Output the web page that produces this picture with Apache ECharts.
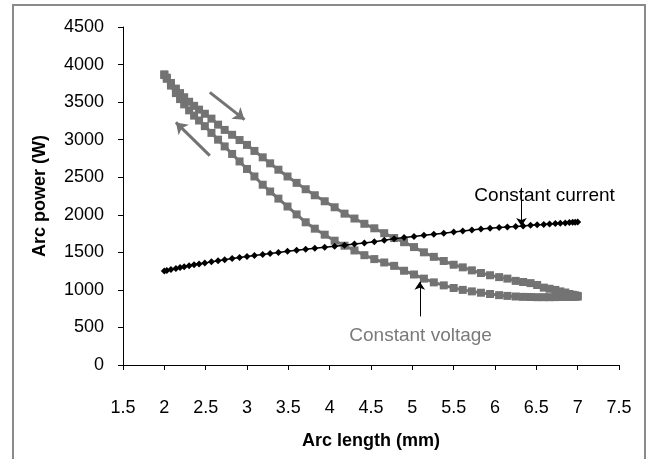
<!DOCTYPE html>
<html>
<head>
<meta charset="utf-8">
<script src="https://cdn.jsdelivr.net/npm/echarts@6/dist/echarts.min.js"></script>
<style>
  html, body { margin: 0; padding: 0; background: #fff; }
  #chart { width: 649px; height: 459px; }
</style>
</head>
<body>
<div id="chart"></div>
<script>
// arc length (mm) at each sample of the sweep
const arcLength = [
  2.00, 2.03, 2.08, 2.14, 2.19, 2.24, 2.30, 2.36, 2.42, 2.49, 2.57, 2.65, 2.73, 2.82, 2.91,
  3.00, 3.09, 3.19, 3.28, 3.38, 3.49, 3.60, 3.71, 3.82, 3.94, 4.06, 4.18, 4.30, 4.42, 4.54,
  4.66, 4.78, 4.90, 5.02, 5.14, 5.26, 5.38, 5.50, 5.61, 5.72, 5.83, 5.94, 6.05, 6.15, 6.25,
  6.34, 6.43, 6.51, 6.59, 6.66, 6.73, 6.79, 6.85, 6.90, 6.94, 6.97, 7.00
];

// constant current: arc power (W)
const ccPower = [
  1250, 1258, 1270, 1285, 1297, 1308, 1322, 1334, 1346, 1358, 1373, 1388, 1402, 1417, 1432,
  1445, 1458, 1472, 1484, 1498, 1514, 1527, 1540, 1553, 1568, 1582, 1595, 1610, 1625, 1640,
  1660, 1680, 1697, 1712, 1727, 1741, 1755, 1770, 1783, 1797, 1810, 1820, 1829, 1837, 1845,
  1852, 1860, 1866, 1872, 1878, 1883, 1888, 1892, 1896, 1899, 1902, 1904
];

// constant voltage, arc length increasing (upper branch)
const cvPowerUp = [
  3870, 3825, 3755, 3680, 3620, 3565, 3505, 3450, 3400, 3345, 3280, 3200, 3130, 3065, 2995,
  2930, 2850, 2765, 2685, 2600, 2510, 2425, 2340, 2260, 2180, 2100, 2015, 1950, 1880, 1820,
  1755, 1690, 1635, 1570, 1500, 1440, 1385, 1335, 1300, 1260, 1225, 1195, 1170, 1150, 1120,
  1105, 1090, 1065, 1030, 1015, 1000, 980, 965, 945, 935, 928, 920
];

// constant voltage, arc length decreasing (lower branch), same arc length samples
const cvPowerDown = [
  3860, 3810, 3720, 3620, 3540, 3470, 3390, 3320, 3255, 3180, 3090, 3000, 2910, 2810, 2710,
  2610, 2510, 2400, 2310, 2215, 2110, 2005, 1900, 1815, 1735, 1655, 1588, 1525, 1462, 1410,
  1365, 1320, 1255, 1205, 1150, 1100, 1060, 1025, 1000, 980, 962, 945, 930, 920, 912,
  907, 905, 903, 903, 903, 904, 905, 906, 907, 908, 909, 910
];

const xTicks = { min: 1.5, max: 7.5, step: 0.5 };
const yTicks = { min: 0, max: 4500, step: 500 };

const ccData = arcLength.map((x, i) => [x, ccPower[i]]);
const cvData = arcLength.map((x, i) => [x, cvPowerUp[i]])
  .concat(arcLength.map((x, i) => [x, cvPowerDown[i]]).reverse());

const FONT = "'Liberation Sans', Arial, sans-serif";
const GRAY = "#737373";

const chart = echarts.init(document.getElementById("chart"));

const hiddenLabel = { show: false };

chart.setOption({
  animation: false,
  backgroundColor: "#fff",
  textStyle: { fontFamily: FONT },
  grid: { left: 123, right: 30, top: 27, bottom: 94 },
  graphic: [{
    type: "rect",
    shape: { x: 13, y: 5, width: 632, height: 470 },
    style: { fill: "none", stroke: "#8a8a8a", lineWidth: 2 },
    silent: true,
    z: -1
  }],
  xAxis: {
    type: "value",
    min: xTicks.min, max: xTicks.max, interval: xTicks.step,
    name: "Arc length (mm)",
    nameLocation: "middle",
    nameGap: 67,
    nameTextStyle: { fontSize: 18, fontWeight: "bold", color: "#000", fontFamily: FONT },
    axisLine: { lineStyle: { color: "#000", width: 1 } },
    axisTick: { show: true, inside: false, length: 5, lineStyle: { color: "#000" } },
    axisLabel: { fontSize: 18, color: "#000", margin: 34, fontFamily: FONT,
                 formatter: (v) => String(v) },
    splitLine: { show: false }
  },
  yAxis: {
    type: "value",
    min: yTicks.min, max: yTicks.max, interval: yTicks.step,
    name: "Arc power (W)",
    nameLocation: "middle",
    nameGap: 74,
    nameTextStyle: { fontSize: 18, fontWeight: "bold", color: "#000", fontFamily: FONT },
    axisLine: { show: true, lineStyle: { color: "#000", width: 1 } },
    axisTick: { show: true, inside: false, length: 5, lineStyle: { color: "#000" } },
    axisLabel: { fontSize: 18, color: "#000", margin: 19, fontFamily: FONT,
                 formatter: (v) => String(v) },
    splitLine: { show: false }
  },
  series: [
    {
      name: "Constant voltage",
      type: "line",
      data: cvData,
      symbol: "rect",
      symbolSize: 8,
      showSymbol: true,
      lineStyle: { color: GRAY, width: 3 },
      itemStyle: { color: GRAY },
      z: 2,
      markLine: {
        silent: true,
        symbol: ["none", "arrow"],
        symbolSize: 11,
        label: hiddenLabel,
        lineStyle: { color: GRAY, width: 3, type: "solid" },
        data: [
          [{ coord: [2.55, 3630] }, { coord: [2.97, 3266] }],
          [{ coord: [2.55, 2787] }, { coord: [2.14, 3230] }]
        ]
      },
      markPoint: {
        silent: true,
        symbol: "rect",
        symbolSize: 0,
        data: [{
          coord: [5.10, 394],
          label: { show: true, position: "inside", formatter: "Constant voltage",
                   fontSize: 19, color: "#7a7a7a", fontFamily: FONT }
        }]
      }
    },
    {
      name: "Constant current",
      type: "line",
      data: ccData,
      symbol: "diamond",
      symbolSize: 7,
      showSymbol: true,
      lineStyle: { color: "#000", width: 1.5 },
      itemStyle: { color: "#000" },
      z: 3,
      markLine: {
        silent: true,
        symbol: ["none", "arrow"],
        symbolSize: 8,
        label: hiddenLabel,
        lineStyle: { color: "#000", width: 1, type: "solid" },
        data: [
          [{ coord: [6.32, 2357] }, { coord: [6.32, 1850] }],
          [{ coord: [5.09, 647] }, { coord: [5.09, 1108] }]
        ]
      },
      markPoint: {
        silent: true,
        symbol: "rect",
        symbolSize: 0,
        data: [{
          coord: [6.60, 2254],
          label: { show: true, position: "inside", formatter: "Constant current",
                   fontSize: 19, color: "#000", fontFamily: FONT }
        }]
      }
    }
  ]
});
</script>
</body>
</html>
